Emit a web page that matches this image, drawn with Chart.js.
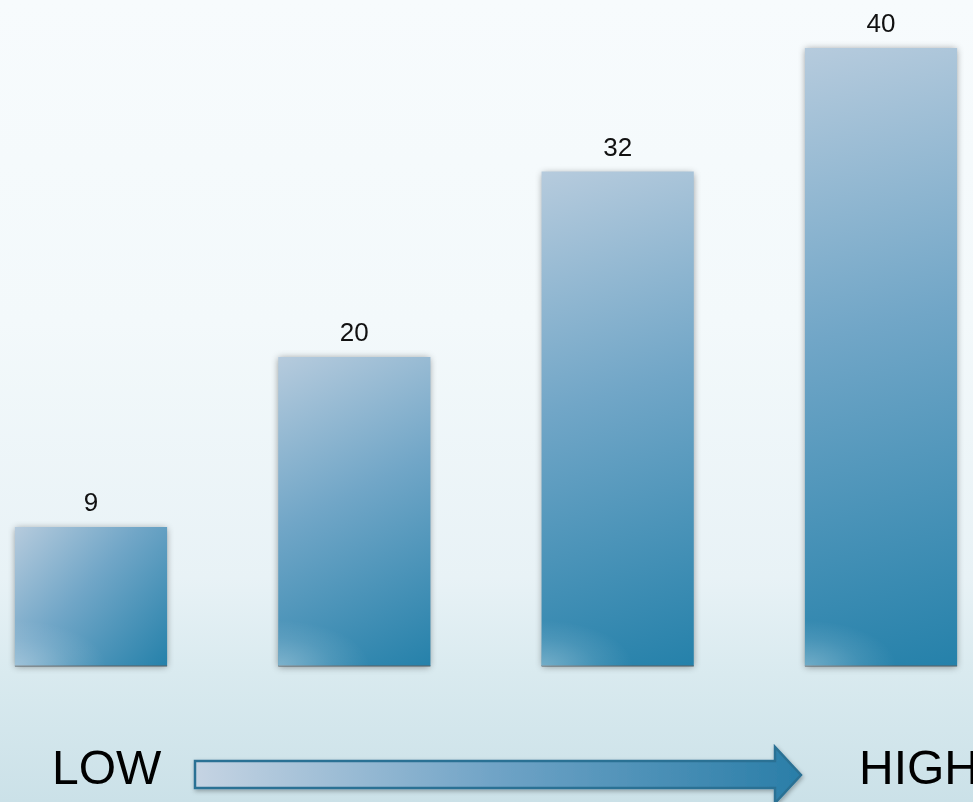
<!DOCTYPE html>
<html>
<head>
<meta charset="utf-8">
<script src="https://cdn.jsdelivr.net/npm/chart.js@4"></script>
<style>
  html, body { margin: 0; padding: 0; }
  body {
    width: 973px; height: 802px; overflow: hidden; position: relative;
    font-family: "Liberation Sans", Arial, sans-serif;
    background: linear-gradient(to bottom, #f7fbfd 0%, #f3f9fb 40%, #e8f2f6 72%, #d9eaef 84%, #cbe1e8 100%);
  }
  #wrap { position: absolute; left: 0; top: 0; width: 973px; height: 802px; }
  .end { position: absolute; top: 744px; font-size: 48px; color: #000; line-height: 1; }
  #low { left: 52px; }
  #high { left: 859px; }
  #arrow { position: absolute; left: 0; top: 0; }
</style>
</head>
<body>
<div id="wrap"><canvas id="bars" width="973" height="802"></canvas></div>
<svg id="arrow" width="973" height="802">
  <defs>
    <linearGradient id="arrowFill" x1="194" y1="0" x2="801" y2="0" gradientUnits="userSpaceOnUse">
      <stop offset="0" stop-color="#c6d4e3"/>
      <stop offset="0.5" stop-color="#6fa3c6"/>
      <stop offset="1" stop-color="#2a7ea8"/>
    </linearGradient>
    <filter id="soft" x="-5%" y="-40%" width="110%" height="180%">
      <feDropShadow dx="1" dy="2" stdDeviation="2" flood-color="#000" flood-opacity="0.3"/>
    </filter>
  </defs>
  <polygon points="195,761 775,761 775,747 801,775 775,803 775,788 195,788"
           fill="url(#arrowFill)" stroke="#2c7194" stroke-width="2.5" filter="url(#soft)"/>
</svg>
<div class="end" id="low">LOW</div>
<div class="end" id="high">HIGH</div>
<script>
// ── Data ──
const categories = ['A', 'B', 'C', 'D'];
const values = [9, 20, 32, 40];
const yMax = 40;
const barPct = 0.578;

// ── Bar fill: light top-left to deep blue bottom-right ──
function barFill(ctx) {
  const chart = ctx.chart;
  if (!chart.chartArea || ctx.dataIndex === undefined) return '#5a9bc0';
  const x = chart.scales.x, y = chart.scales.y;
  const cx = x.getPixelForValue(ctx.dataIndex);
  const half = (x.getPixelForValue(1) - x.getPixelForValue(0)) * barPct / 2;
  const top = y.getPixelForValue(values[ctx.dataIndex]);
  const bottom = y.getPixelForValue(0);
  const g = chart.ctx.createLinearGradient(cx - half, top, cx + half, bottom);
  g.addColorStop(0, '#b6cbdd');
  g.addColorStop(0.45, '#71a6c7');
  g.addColorStop(1, '#2581aa');
  return g;
}

// ── Shadow, corner glow and value labels ──
const barDecor = {
  id: 'barDecor',
  beforeDatasetsDraw(chart) {
    const c = chart.ctx;
    c.save();
    c.shadowColor = 'rgba(0,0,0,0.4)';
    c.shadowBlur = 7;
    c.shadowOffsetX = 0;
    c.shadowOffsetY = 1;
  },
  afterDatasetsDraw(chart) {
    const c = chart.ctx;
    c.restore();
    const meta = chart.getDatasetMeta(0);
    meta.data.forEach((bar, i) => {
      const left = bar.x - bar.width / 2, right = bar.x + bar.width / 2;
      const top = bar.y, bottom = bar.base;
      // thin darker floor line along the base
      c.fillStyle = 'rgba(90,100,105,0.55)';
      c.fillRect(left, bottom - 1, right - left, 2);
      // faint whitish glow in the lower-left corner
      c.save();
      c.beginPath();
      c.rect(left, top, right - left, bottom - top);
      c.clip();
      c.translate(left, bottom);
      c.scale(1, 0.5);
      const r = Math.min(bar.width * 0.6, (bottom - top) * 1.4);
      const g = c.createRadialGradient(0, 0, 0, 0, 0, r);
      g.addColorStop(0, 'rgba(255,255,255,0.32)');
      g.addColorStop(0.6, 'rgba(255,255,255,0.1)');
      g.addColorStop(1, 'rgba(255,255,255,0)');
      c.fillStyle = g;
      c.fillRect(0, -r, r, r);
      c.restore();
      // value above the bar
      c.save();
      c.fillStyle = '#111';
      c.font = '26px "Liberation Sans", Arial, sans-serif';
      c.textAlign = 'center';
      c.textBaseline = 'alphabetic';
      c.fillText(String(values[i]), bar.x, top - 16);
      c.restore();
    });
  }
};

new Chart(document.getElementById('bars'), {
  type: 'bar',
  data: {
    labels: categories,
    datasets: [{
      data: values,
      backgroundColor: barFill,
      borderWidth: 0,
      categoryPercentage: 1,
      barPercentage: barPct,
      clip: false
    }]
  },
  options: {
    responsive: false,
    animation: false,
    layout: { padding: { left: 91, right: 92, top: 48, bottom: 136 } },
    plugins: { legend: { display: false }, tooltip: { enabled: false } },
    scales: {
      x: { display: false, offset: false, grid: { offset: false } },
      y: { display: false, min: 0, max: yMax }
    }
  },
  plugins: [barDecor]
});
</script>
</body>
</html>
